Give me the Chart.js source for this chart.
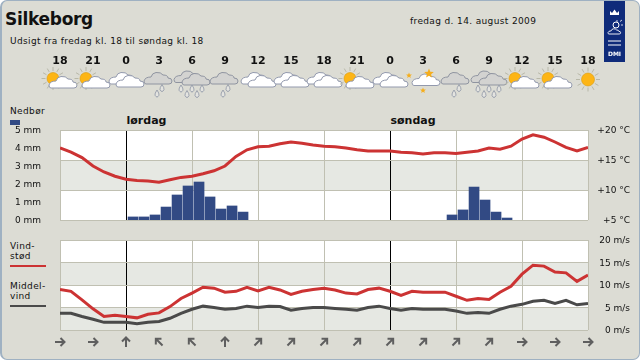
<!DOCTYPE html>
<html>
<head>
<meta charset="utf-8">
<script src="https://cdn.jsdelivr.net/npm/chart.js@4/dist/chart.umd.min.js"></script>
<style>
html, body { margin: 0; padding: 0; background: #fff; }
#page { position: relative; width: 640px; height: 360px; overflow: hidden; background: #fff;
    font-family: "DejaVu Sans", sans-serif; color: #111; }
#panel { position: absolute; left: 0; top: 0; width: 637px; height: 358px; background: #dcdcd4;
    border: 1px solid #9fb1c2; border-left-width: 2px; border-radius: 7px; }
.txt { position: absolute; white-space: nowrap; font-size: 9px; line-height: 10px; letter-spacing: 0.36px; }
.hour { font-weight: bold; font-size: 11px; line-height: 14px; top: 54px; width: 40px; text-align: center; letter-spacing: 0; }
.day { font-weight: bold; font-size: 11px; line-height: 12px; top: 115px; letter-spacing: 0; }
canvas { position: absolute; left: 0; }
svg { position: absolute; left: 0; top: 0; }
.key { position: absolute; left: 10px; width: 36px; height: 2px; }
</style>
</head>
<body>
<div id="page">
    <div id="panel"></div>
    <div class="txt" style="left:5px;top:8px;font-size:17px;line-height:22px;font-weight:bold;letter-spacing:-0.3px">Silkeborg</div>
    <div class="txt" style="left:410px;top:16px">fredag d. 14. august 2009</div>
    <div class="txt" style="left:10px;top:36px">Udsigt fra fredag kl. 18 til søndag kl. 18</div>
    <div class="txt" style="left:10px;top:106px">Nedbør</div>
    <div class="key" style="top:120px;width:10px;height:5px;background:#324a84"></div>
    <div class="txt" style="left:10px;top:241px">Vind-<br>stød</div>
    <div class="key" style="top:265px;background:#cc3333"></div>
    <div class="txt" style="left:10px;top:281px">Middel-<br>vind</div>
    <div class="key" style="top:305px;background:#4a4a4a"></div>
    <div class="txt day" style="left:126.5px">lørdag</div>
    <div class="txt day" style="left:390.5px">søndag</div>
    <canvas id="rainChart" width="640" height="130" style="top:110px"></canvas>
    <canvas id="windChart" width="640" height="130" style="top:220px"></canvas>
    <svg id="icons" width="640" height="360"></svg>
</div>
<script>
// hours from fredag kl. 18, one step per hour
var temperature = [17.0, 16.3, 15.4, 14.0, 13.0, 12.3, 11.8, 11.6, 11.5, 11.3, 11.7, 12.1, 12.3, 12.7, 13.2, 14.0, 15.6, 16.7, 17.2, 17.3, 17.7, 18.0, 17.8, 17.5,
    17.3, 17.2, 17.0, 16.7, 16.5, 16.5, 16.5, 16.3, 16.2, 16.0, 16.2, 16.2, 16.1, 16.3, 16.5, 17.0, 16.8, 17.3, 18.5, 19.2, 18.8, 18.0, 17.1, 16.5, 17.1];
var gust = [9.0, 8.6, 6.7, 4.7, 3.0, 3.3, 3.0, 2.7, 3.5, 3.8, 5.2, 7.0, 8.2, 9.5, 9.3, 8.4, 8.6, 9.5, 8.7, 9.5, 8.9, 7.9, 8.6, 9.0,
    9.3, 8.9, 8.2, 8.0, 9.0, 9.3, 8.6, 7.7, 8.6, 8.4, 8.4, 8.4, 7.5, 6.6, 7.0, 6.8, 8.4, 9.7, 12.4, 14.4, 14.2, 12.9, 12.7, 10.8, 12.2];
var meanWind = [3.7, 3.7, 3.0, 2.4, 1.7, 1.7, 1.7, 1.4, 1.7, 1.9, 2.6, 3.7, 4.6, 5.3, 5.0, 4.6, 4.8, 5.3, 5.0, 5.3, 5.2, 4.4, 4.8, 5.0,
    5.0, 4.8, 4.6, 4.4, 5.0, 5.3, 4.8, 4.4, 4.8, 4.6, 4.6, 4.6, 4.2, 3.7, 3.9, 3.7, 4.6, 5.3, 5.7, 6.4, 6.6, 5.9, 6.6, 5.6, 5.9];
// rain per hour, starting at rainStart
var rainA = [0.17, 0.17, 0.28, 0.72, 1.39, 1.89, 2.11, 1.28, 0.61, 0.78, 0.44];
var rainAStart = 6;
var rainB = [0.28, 0.56, 1.83, 1.11, 0.44, 0.11];
var rainBStart = 35;
var midnights = [6, 30];
var hourLabels = ['18', '21', '0', '3', '6', '9', '12', '15', '18', '21', '0', '3', '6', '9', '12', '15', '18'];
var weather = ['sun', 'sun', 'clouds', 'rain', 'heavy', 'rain', 'clouds', 'clouds', 'clouds', 'sun', 'cloudsStar', 'night', 'rain', 'heavy', 'sun', 'sun', 'clear'];
var windDir = [90, 90, 0, 315, 315, 0, 45, 45, 45, 45, 45, 45, 45, 45, 90, 90, 90];

var GRID = '#c0c0b2', BAND = '#e6e8e3', LABEL = '#111';
var plotLeft = 60, hourStep = 11;

function pts(values, start) {
    return values.map(function (v, i) { return { x: i + (start || 0), y: v }; });
}

// grey bands behind the lines
function bandPlugin(scaleId, bands) {
    return {
        id: 'bands',
        beforeDraw: function (chart) {
            var c = chart.ctx, a = chart.chartArea, s = chart.scales[scaleId];
            c.save();
            c.fillStyle = '#fff';
            c.fillRect(a.left, a.top, a.right - a.left, a.bottom - a.top);
            c.fillStyle = BAND;
            bands.forEach(function (b) {
                var y0 = s.getPixelForValue(b[1]), y1 = s.getPixelForValue(b[0]);
                c.fillRect(a.left, y0, a.right - a.left, y1 - y0);
            });
            c.restore();
        }
    };
}

function xAxis() {
    return {
        type: 'linear', min: 0, max: 48, display: true, offset: false,
        afterFit: function (s) { s.height = 0; },
        ticks: { stepSize: 6, display: false },
        border: { display: false },
        grid: {
            offset: false,
            drawTicks: false,
            lineWidth: 1,
            color: function (c) { return c.tick && midnights.indexOf(c.tick.value) >= 0 ? '#000' : GRID; }
        }
    };
}

function yAxis(pos, min, max, step, fmt, w, grid) {
    return {
        position: pos, min: min, max: max,
        afterFit: function (s) { s.width = w; },
        ticks: {
            stepSize: step, padding: pos == 'left' ? 11 : 8, color: LABEL, crossAlign: pos == 'left' ? 'near' : 'far',
            labelOffset: 1,
            font: { family: 'DejaVu Sans', size: 9 },
            callback: fmt
        },
        border: { display: false },
        grid: grid ? { color: GRID, lineWidth: 1, drawTicks: false } : { display: false }
    };
}

new Chart(document.getElementById('rainChart').getContext('2d'), {
    data: {
        datasets: [
            { type: 'line', data: pts(temperature), yAxisID: 'temp', borderColor: '#cc3333', borderWidth: 3, pointRadius: 0, tension: 0, order: 1 },
            { type: 'bar', data: pts(rainA, rainAStart + 0.64).concat(pts(rainB, rainBStart + 0.64)), yAxisID: 'rain', backgroundColor: '#324a84', barThickness: 10, order: 2 }
        ]
    },
    options: {
        responsive: false, animation: false,
        layout: { padding: { top: 20, bottom: 20, left: 0, right: 10 } },
        plugins: { legend: { display: false }, tooltip: { enabled: false } },
        scales: {
            x: xAxis(),
            rain: yAxis('left', 0, 5, 1, function (v) { return v + ' mm'; }, 60, false),
            temp: yAxis('right', 5, 20, 5, function (v) { return '+' + v + ' °C'; }, 42, true)
        }
    },
    plugins: [bandPlugin('temp', [[10, 15]])]
});

new Chart(document.getElementById('windChart').getContext('2d'), {
    data: {
        datasets: [
            { type: 'line', data: pts(gust), yAxisID: 'wind', borderColor: '#cc3333', borderWidth: 3, pointRadius: 0, tension: 0, order: 1 },
            { type: 'line', data: pts(meanWind), yAxisID: 'wind', borderColor: '#4a4a4a', borderWidth: 3, pointRadius: 0, tension: 0, order: 2 }
        ]
    },
    options: {
        responsive: false, animation: false,
        layout: { padding: { top: 20, bottom: 20, left: 60, right: 10 } },
        plugins: { legend: { display: false }, tooltip: { enabled: false } },
        scales: {
            x: xAxis(),
            wind: yAxis('right', 0, 20, 5, function (v) { return v + ' m/s'; }, 42, true)
        }
    },
    plugins: [bandPlugin('wind', [[0, 5], [10, 15]])]
});

// hour labels, weather icons and wind arrows along the same 3 hour steps
function cloud(x, y, fill, stroke) {
    // x,y = lower left, about 27 wide
    return '<path transform="translate(' + x + ' ' + y + ')" d="M2 0 H25 Q28 0 28 -3 Q28 -6 24 -6 Q24 -9 19 -9 Q17 -12 12 -11.5 Q8 -11 7 -7 Q1 -7 0 -3 Q0 0 2 0 Z" fill="' + fill + '" stroke="' + stroke + '" stroke-width="1"/>';
}
function sun(x, y, r) {
    var s = '', a;
    for (a = 0; a < 360; a += 30) {
        var t = a * Math.PI / 180;
        s += '<line x1="' + (x + Math.cos(t) * (r + 1.5)) + '" y1="' + (y + Math.sin(t) * (r + 1.5)) + '" x2="' + (x + Math.cos(t) * (r + 5.5)) + '" y2="' + (y + Math.sin(t) * (r + 5.5)) + '" stroke="#b8b8a8" stroke-width="1"/>';
    }
    return s + '<circle cx="' + x + '" cy="' + y + '" r="' + r + '" fill="#fdb515" stroke="#d99a10" stroke-width="0.6"/>';
}
function drop(x, y) {
    return '<path transform="translate(' + x + ' ' + y + ')" d="M0 -4 Q-2.4 -0.5 -2 1.2 Q-1 3 0 3 Q1 3 2 1.2 Q2.4 -0.5 0 -4 Z" fill="#e4e4e0" stroke="#8b93a3" stroke-width="0.8"/>';
}
function star(x, y, r) {
    var p = [], i;
    for (i = 0; i < 10; i++) {
        var t = -Math.PI / 2 + i * Math.PI / 5, k = i % 2 ? r * 0.45 : r;
        p.push((x + Math.cos(t) * k).toFixed(1) + ',' + (y + Math.sin(t) * k).toFixed(1));
    }
    return '<polygon points="' + p.join(' ') + '" fill="#f5ae1d"/>';
}
var WHITE = '#ffffff', WLINE = '#9299ad', GREY = '#d3d3d1', GLINE = '#8f94a0';
var iconDraw = {
    sun: function (x) { return sun(x - 7, 78.5, 6) + cloud(x - 11, 88, WHITE, WLINE); },
    clouds: function (x) { return cloud(x - 17, 84, WHITE, WLINE) + cloud(x - 10, 87, WHITE, WLINE); },
    cloudsStar: function (x) { return cloud(x - 17, 84, WHITE, WLINE) + cloud(x - 10, 87, WHITE, WLINE) + star(x + 19, 75.5, 3); },
    rain: function (x) { return cloud(x - 15, 84, GREY, GLINE) + drop(x - 2, 94) + drop(x + 3, 88.5); },
    heavy: function (x) {
        return cloud(x - 18, 82.5, GREY, GLINE) + cloud(x - 10, 85, GREY, GLINE) + drop(x - 11, 89) + drop(x - 5, 94.5) + drop(x, 89) + drop(x + 5, 94.5) + drop(x + 10, 89);
    },
    night: function (x) { return cloud(x - 11, 85.5, WHITE, WLINE) + star(x + 6, 73.5, 5) + star(x, 90.5, 3); },
    clear: function (x) { return sun(x, 79.5, 6.5); }
};
var html = '', page = document.getElementById('page'), icons = document.getElementById('icons');
hourLabels.forEach(function (h, i) {
    var x = plotLeft + i * 3 * hourStep;
    var d = document.createElement('div');
    d.className = 'txt hour';
    d.style.left = (x - 20) + 'px';
    d.textContent = h;
    page.appendChild(d);
    html += iconDraw[weather[i]](x);
    html += '<path transform="translate(' + x + ' 342) rotate(' + windDir[i] + ')" d="M0 5 V-4.5 M-4 -0.5 L0 -4.5 L4 -0.5" fill="none" stroke="#5f5f5f" stroke-width="2"/>';
});
// DMI logo
html += '<rect x="604" y="1" width="21" height="61" fill="#0f2b7a"/>';
html += '<path d="M610 15 V11 L612 13 L614.5 9.5 L617 13 L619 11 V15 Z" fill="#fff"/>';
html += '<g stroke="#fff" stroke-width="0.8"><line x1="617" y1="20" x2="617" y2="22"/><line x1="621" y1="25" x2="623" y2="25"/><line x1="620" y1="21.5" x2="622" y2="20"/></g>';
html += '<circle cx="616" cy="25" r="3" fill="none" stroke="#fff"/>';
html += '<path transform="translate(608 34) scale(0.45)" d="M2 0 H25 Q28 0 28 -3 Q28 -6 24 -6 Q24 -9 19 -9 Q17 -12 12 -11.5 Q8 -11 7 -7 Q1 -7 0 -3 Q0 0 2 0 Z" fill="#0f2b7a" stroke="#fff" stroke-width="2"/>';
html += '<g stroke="#fff" stroke-width="1"><line x1="608" y1="41" x2="621" y2="41"/><line x1="608" y1="45" x2="621" y2="45"/></g>';
icons.innerHTML = html;
var logo = document.createElement('div');
logo.className = 'txt';
logo.style.cssText = 'left:605px;top:49px;width:19px;text-align:center;color:#fff;font-size:6px;font-weight:bold;letter-spacing:0';
logo.textContent = 'DMI';
page.appendChild(logo);
</script>
</body>
</html>
